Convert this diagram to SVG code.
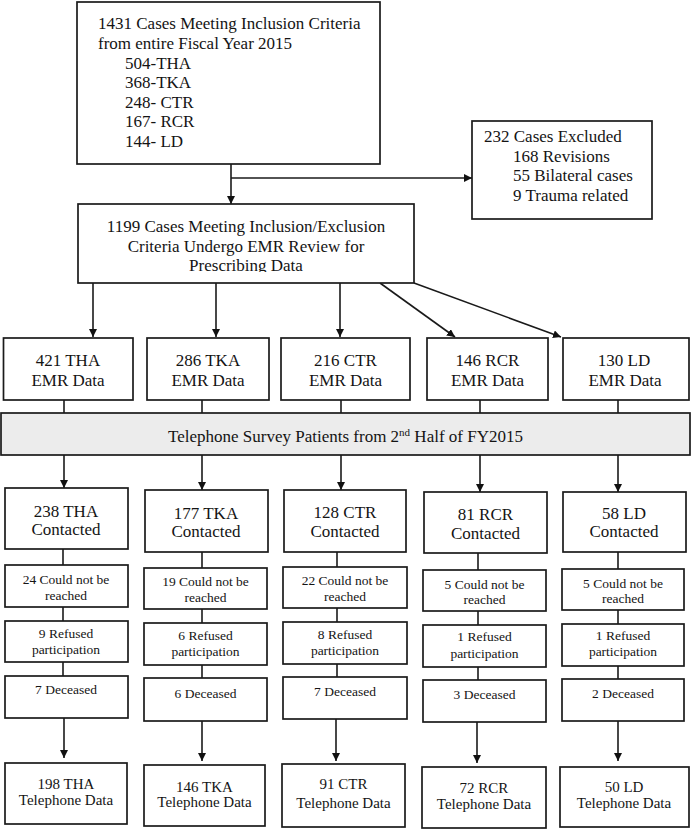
<svg xmlns="http://www.w3.org/2000/svg" width="692" height="831" viewBox="0 0 692 831">
<style>
  .box { fill: #ffffff; stroke: #1a1a1a; stroke-width: 1.7; }
  .band { fill: #ececec; stroke: #1a1a1a; stroke-width: 1.7; }
  .ln { fill: none; stroke: #1a1a1a; stroke-width: 1.6; }
  .arr { fill: none; stroke: #1a1a1a; stroke-width: 1.6; marker-end: url(#ah); }
  text { font-family: "Liberation Serif", "Times New Roman", serif; fill: #141414; }
  .t17 { font-size: 17px; }
  .t15 { font-size: 15px; }
  .t13 { font-size: 13.5px; }
  .c { text-anchor: middle; }
</style>
<defs>
  <marker id="ah" viewBox="0 0 10 10" refX="10" refY="5" markerWidth="8" markerHeight="8" markerUnits="userSpaceOnUse" orient="auto">
    <path d="M0,0 L10,5 L0,10 z" fill="#111"/>
  </marker>
  <clipPath id="midclip"><rect x="78" y="204" width="336" height="68"/></clipPath>
</defs>

<g id="connectors">
  <line class="arr" x1="231" y1="164" x2="231" y2="204"/>
  <line class="arr" x1="231" y1="178" x2="472" y2="178"/>
  <line class="arr" x1="93" y1="283" x2="93" y2="337"/>
  <line class="arr" x1="216" y1="283" x2="216" y2="337"/>
  <line class="arr" x1="340" y1="283" x2="340" y2="337"/>
  <line class="arr" x1="380" y1="283" x2="455" y2="337"/>
  <line class="arr" x1="414" y1="283" x2="561" y2="337"/>
  <line class="ln" x1="64" y1="400" x2="64" y2="413"/>
  <line class="ln" x1="202" y1="400" x2="202" y2="413"/>
  <line class="ln" x1="341" y1="400" x2="341" y2="413"/>
  <line class="ln" x1="480" y1="400" x2="480" y2="413"/>
  <line class="ln" x1="618" y1="400" x2="618" y2="413"/>
  <line class="arr" x1="64" y1="455" x2="64" y2="488"/>
  <line class="arr" x1="202" y1="455" x2="202" y2="490"/>
  <line class="arr" x1="341" y1="455" x2="341" y2="490"/>
  <line class="arr" x1="480" y1="455" x2="480" y2="492"/>
  <line class="arr" x1="618" y1="455" x2="618" y2="492"/>
  <!-- col1 -->
  <line class="ln" x1="63" y1="549" x2="63" y2="565"/>
  <line class="ln" x1="63" y1="607" x2="63" y2="621"/>
  <line class="ln" x1="63" y1="662" x2="63" y2="676"/>
  <line class="arr" x1="64" y1="718" x2="64" y2="758"/>
  <!-- col2 -->
  <line class="ln" x1="202" y1="552" x2="202" y2="568"/>
  <line class="ln" x1="202" y1="609" x2="202" y2="623"/>
  <line class="ln" x1="202" y1="665" x2="202" y2="678"/>
  <line class="arr" x1="202" y1="721" x2="202" y2="761"/>
  <!-- col3 -->
  <line class="ln" x1="337" y1="552" x2="337" y2="567"/>
  <line class="ln" x1="337" y1="608" x2="337" y2="622"/>
  <line class="ln" x1="337" y1="664" x2="337" y2="677"/>
  <line class="arr" x1="336" y1="719" x2="336" y2="761"/>
  <!-- col4 -->
  <line class="ln" x1="478" y1="553" x2="478" y2="570"/>
  <line class="ln" x1="478" y1="611" x2="478" y2="625"/>
  <line class="ln" x1="478" y1="667" x2="478" y2="680"/>
  <line class="arr" x1="477" y1="722" x2="477" y2="763"/>
  <!-- col5 -->
  <line class="ln" x1="618" y1="552" x2="618" y2="569"/>
  <line class="ln" x1="618" y1="610" x2="618" y2="624"/>
  <line class="ln" x1="618" y1="666" x2="618" y2="679"/>
  <line class="arr" x1="618" y1="721" x2="618" y2="761"/>
</g>

<g id="inclusion">
  <rect class="box" x="77" y="2" width="303" height="162"/>
  <text class="t17" x="98" y="29.3">1431 Cases Meeting Inclusion Criteria</text>
  <text class="t17" x="98" y="48.9">from entire Fiscal Year 2015</text>
  <text class="t17" x="125" y="68.5">504-THA</text>
  <text class="t17" x="125" y="88.1">368-TKA</text>
  <text class="t17" x="125" y="107.7">248- CTR</text>
  <text class="t17" x="125" y="127.3">167- RCR</text>
  <text class="t17" x="125" y="146.9">144- LD</text>
</g>

<g id="excluded">
  <rect class="box" x="472" y="121" width="180" height="98"/>
  <text class="t17" x="484" y="142">232 Cases Excluded</text>
  <text class="t17" x="513" y="161.5">168 Revisions</text>
  <text class="t17" x="513" y="181">55 Bilateral cases</text>
  <text class="t17" x="513" y="200.5">9 Trauma related</text>
</g>

<g id="review">
  <rect class="box" x="78" y="204" width="336" height="79"/>
  <g clip-path="url(#midclip)">
    <text class="t17 c" x="246" y="232">1199 Cases Meeting Inclusion/Exclusion</text>
    <text class="t17 c" x="246" y="251.5">Criteria Undergo EMR Review for</text>
    <text class="t17 c" x="246" y="271">Prescribing Data</text>
  </g>
</g>

<g id="emr-tha">
  <rect class="box" x="3.5" y="338" width="129.5" height="62"/>
  <text class="t17 c" x="68" y="366">421 THA</text>
  <text class="t17 c" x="68" y="386">EMR Data</text>
</g>
<g id="emr-tka">
  <rect class="box" x="147" y="338" width="122" height="62"/>
  <text class="t17 c" x="208" y="366">286 TKA</text>
  <text class="t17 c" x="208" y="386">EMR Data</text>
</g>
<g id="emr-ctr">
  <rect class="box" x="281" y="338" width="129" height="62"/>
  <text class="t17 c" x="345.5" y="366">216 CTR</text>
  <text class="t17 c" x="345.5" y="386">EMR Data</text>
</g>
<g id="emr-rcr">
  <rect class="box" x="427" y="338" width="121" height="62"/>
  <text class="t17 c" x="487.5" y="366">146 RCR</text>
  <text class="t17 c" x="487.5" y="386">EMR Data</text>
</g>
<g id="emr-ld">
  <rect class="box" x="563" y="338" width="126" height="62"/>
  <text class="t17 c" x="624" y="366">130 LD</text>
  <text class="t17 c" x="625" y="386">EMR Data</text>
</g>

<g id="survey-band">
  <rect class="band" x="1" y="413" width="689" height="42"/>
  <text class="t17 c" x="345.5" y="442">Telephone Survey Patients from 2<tspan font-size="11" dy="-6">nd</tspan><tspan dy="6"> Half of FY2015</tspan></text>
</g>

<!-- column 1 -->
<g id="tha-contacted">
  <rect class="box" x="5" y="488" width="123" height="61"/>
  <text class="t17 c" x="66" y="517">238 THA</text>
  <text class="t17 c" x="66" y="535">Contacted</text>
</g>
<g id="tha-unreached">
  <rect class="box" x="5" y="565" width="123" height="42"/>
  <text class="t13 c" x="66" y="584">24 Could not be</text>
  <text class="t13 c" x="66" y="600">reached</text>
</g>
<g id="tha-refused">
  <rect class="box" x="5" y="621" width="123" height="41"/>
  <text class="t13 c" x="66" y="638">9 Refused</text>
  <text class="t13 c" x="66" y="654">participation</text>
</g>
<g id="tha-deceased">
  <rect class="box" x="5" y="676" width="123" height="42"/>
  <text class="t13 c" x="66" y="694">7 Deceased</text>
</g>
<g id="tha-telephone">
  <rect class="box" x="5" y="763" width="122" height="61"/>
  <text class="t15 c" x="66" y="789">198 THA</text>
  <text class="t15 c" x="66" y="805">Telephone Data</text>
</g>

<!-- column 2 -->
<g id="tka-contacted">
  <rect class="box" x="145" y="490" width="123" height="62"/>
  <text class="t17 c" x="206" y="519">177 TKA</text>
  <text class="t17 c" x="206" y="537">Contacted</text>
</g>
<g id="tka-unreached">
  <rect class="box" x="144" y="568" width="123" height="41"/>
  <text class="t13 c" x="205.5" y="586">19 Could not be</text>
  <text class="t13 c" x="205.5" y="602">reached</text>
</g>
<g id="tka-refused">
  <rect class="box" x="144" y="623" width="123" height="42"/>
  <text class="t13 c" x="205.5" y="640">6 Refused</text>
  <text class="t13 c" x="205.5" y="656">participation</text>
</g>
<g id="tka-deceased">
  <rect class="box" x="144" y="678" width="123" height="43"/>
  <text class="t13 c" x="205.5" y="698">6 Deceased</text>
</g>
<g id="tka-telephone">
  <rect class="box" x="144" y="765" width="121" height="61"/>
  <text class="t15 c" x="204.5" y="792">146 TKA</text>
  <text class="t15 c" x="204.5" y="807">Telephone Data</text>
</g>

<!-- column 3 -->
<g id="ctr-contacted">
  <rect class="box" x="284" y="490" width="122" height="62"/>
  <text class="t17 c" x="345" y="518">128 CTR</text>
  <text class="t17 c" x="345" y="537">Contacted</text>
</g>
<g id="ctr-unreached">
  <rect class="box" x="283" y="567" width="124" height="41"/>
  <text class="t13 c" x="345" y="585">22 Could not be</text>
  <text class="t13 c" x="345" y="601">reached</text>
</g>
<g id="ctr-refused">
  <rect class="box" x="283" y="622" width="124" height="42"/>
  <text class="t13 c" x="345" y="639">8 Refused</text>
  <text class="t13 c" x="345" y="655">participation</text>
</g>
<g id="ctr-deceased">
  <rect class="box" x="283" y="677" width="124" height="42"/>
  <text class="t13 c" x="345" y="696">7 Deceased</text>
</g>
<g id="ctr-telephone">
  <rect class="box" x="282" y="764" width="123" height="63"/>
  <text class="t15 c" x="343.5" y="789">91 CTR</text>
  <text class="t15 c" x="343.5" y="808">Telephone Data</text>
</g>

<!-- column 4 -->
<g id="rcr-contacted">
  <rect class="box" x="424" y="492" width="123" height="61"/>
  <text class="t17 c" x="485.5" y="520">81 RCR</text>
  <text class="t17 c" x="485.5" y="539">Contacted</text>
</g>
<g id="rcr-unreached">
  <rect class="box" x="423" y="570" width="123" height="41"/>
  <text class="t13 c" x="484.5" y="589">5 Could not be</text>
  <text class="t13 c" x="484.5" y="604">reached</text>
</g>
<g id="rcr-refused">
  <rect class="box" x="423" y="625" width="123" height="42"/>
  <text class="t13 c" x="484.5" y="641">1 Refused</text>
  <text class="t13 c" x="484.5" y="658">participation</text>
</g>
<g id="rcr-deceased">
  <rect class="box" x="423" y="680" width="123" height="42"/>
  <text class="t13 c" x="484.5" y="699">3 Deceased</text>
</g>
<g id="rcr-telephone">
  <rect class="box" x="422" y="767" width="124" height="61"/>
  <text class="t15 c" x="484" y="793">72 RCR</text>
  <text class="t15 c" x="484" y="809">Telephone Data</text>
</g>

<!-- column 5 -->
<g id="ld-contacted">
  <rect class="box" x="563" y="492" width="123" height="60"/>
  <text class="t17 c" x="624" y="519">58 LD</text>
  <text class="t17 c" x="624" y="537">Contacted</text>
</g>
<g id="ld-unreached">
  <rect class="box" x="562" y="569" width="122" height="41"/>
  <text class="t13 c" x="623" y="588">5 Could not be</text>
  <text class="t13 c" x="623" y="603">reached</text>
</g>
<g id="ld-refused">
  <rect class="box" x="562" y="624" width="122" height="42"/>
  <text class="t13 c" x="623" y="640">1 Refused</text>
  <text class="t13 c" x="623" y="656">participation</text>
</g>
<g id="ld-deceased">
  <rect class="box" x="562" y="679" width="122" height="42"/>
  <text class="t13 c" x="623" y="698">2 Deceased</text>
</g>
<g id="ld-telephone">
  <rect class="box" x="560" y="767" width="129" height="60"/>
  <text class="t15 c" x="624" y="792">50 LD</text>
  <text class="t15 c" x="624" y="808">Telephone Data</text>
</g>
</svg>
